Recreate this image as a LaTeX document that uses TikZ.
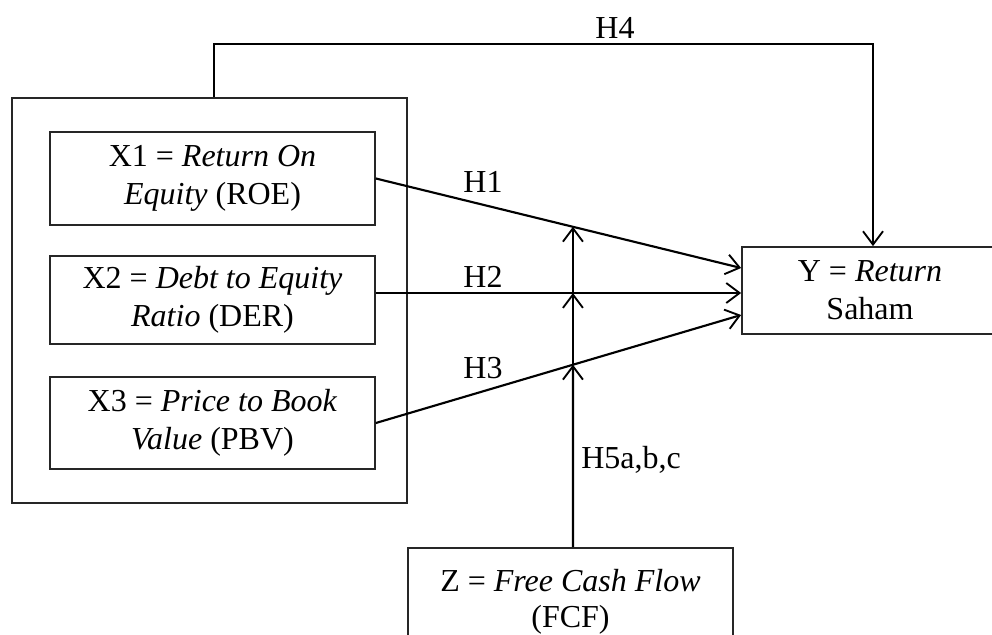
\documentclass[tikz,border=0pt]{standalone}
\usepackage{fontspec}
\setmainfont{Liberation Serif}
\usetikzlibrary{arrows.meta}
\begin{document}
\begin{tikzpicture}[x=0.75pt,y=-0.75pt,
  box/.style={draw=black!85,line width=1.3pt,align=center,inner sep=0pt,
    font=\fontsize{24}{28.5}\selectfont},
  lbl/.style={inner sep=0pt,font=\fontsize{24}{28.5}\selectfont},
  arr/.style={draw=black,line width=1.6pt,
    -{Straight Barb[length=10pt,width=15pt,line width=1.4pt]}},
  ln/.style={draw=black,line width=1.6pt}]
\useasboundingbox (0,0) rectangle (992,635);
% outer group box
\node[box,minimum width=296.25pt,minimum height=303.75pt] (G) at (209.5,300.5) {};
% independent variables
\node[box,minimum width=243.75pt,minimum height=69.75pt] (X1) at (212.5,178.5)
  {X1 = \textit{Return On}\\\textit{Equity} (ROE)};
\node[box,minimum width=243.75pt,minimum height=66pt] (X2) at (212.5,300)
  {X2 = \textit{Debt to Equity}\\\textit{Ratio} (DER)};
\node[box,minimum width=243.75pt,minimum height=69pt] (X3) at (212.5,423)
  {X3 = \textit{Price to Book}\\\textit{Value} (PBV)};
% dependent
\node[box,minimum width=192pt,minimum height=65.25pt] (Y) at (870,290.5)
  {Y = \textit{Return}\\Saham};
% moderator
\node[box,minimum width=243.75pt,minimum height=81pt,
  font=\fontsize{24}{27}\selectfont] (Z) at (570.5,602)
  {Z = \textit{Free Cash Flow}\\(FCF)};
% main paths
\draw[arr] (X1.east) -- coordinate[pos=0.5395] (m1) ([yshift=16.875pt]Y.west);
\draw[arr] ([yshift=5.25pt]X2.east) -- coordinate[pos=0.5395] (m2) ([yshift=-1.875pt]Y.west);
\draw[arr] (X3.east) -- coordinate[pos=0.5395] (m3) ([yshift=-18.375pt]Y.west);
% H4
\draw[arr] ([xshift=3.375pt]G.north) -- ([xshift=3.375pt]G.north |- 0,44)
  -| ([xshift=2.25pt]Y.north);
% moderating line
\draw[arr] ([xshift=1.875pt]Z.north) -- (m3);
\draw[arr] (m3) -- (m2);
\draw[arr] (m2) -- (m1);
% labels
\node[lbl] (h1) at (483,182) {H1};
\node[lbl] (h2) at (483,277) {H2};
\node[lbl] (h3) at (483,368) {H3};
\node[lbl] (h4) at (615,28) {H4};
\node[lbl,anchor=west] (h5) at (581,460) {H5a,b,c};
\end{tikzpicture}
\end{document}
